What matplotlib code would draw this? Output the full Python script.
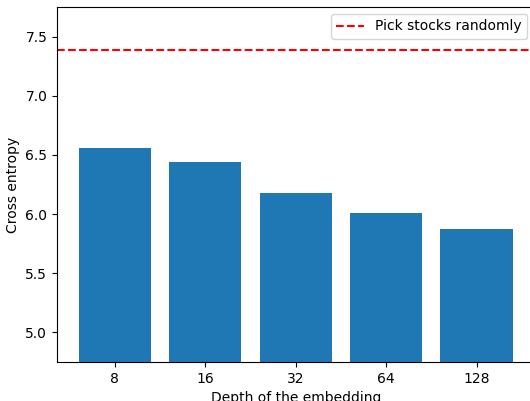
import matplotlib
matplotlib.use("Agg")
import matplotlib.pyplot as plt

# embedding depths and the cross entropy reached for each
depths = ["8", "16", "32", "64", "128"]
cross_entropy = [6.555, 6.436, 6.174, 6.005, 5.870]

# baseline: picking stocks at random
random_baseline = 7.39

fig = plt.figure(figsize=(5.30, 4.01), dpi=100)
# axes run a little past the right edge, like the cropped original
ax = fig.add_axes([57 / 530, 39 / 401, 477.4 / 530, 355 / 401])

ax.bar(depths, cross_entropy)
ax.axhline(random_baseline, color="red", linestyle="--", label="Pick stocks randomly")

ax.set_ylim(4.75, 7.75)
ax.set_xlabel("Depth of the embedding")
ax.set_ylabel("Cross entropy")
ax.legend(loc="upper right")

fig.savefig("out.png", dpi=100)
